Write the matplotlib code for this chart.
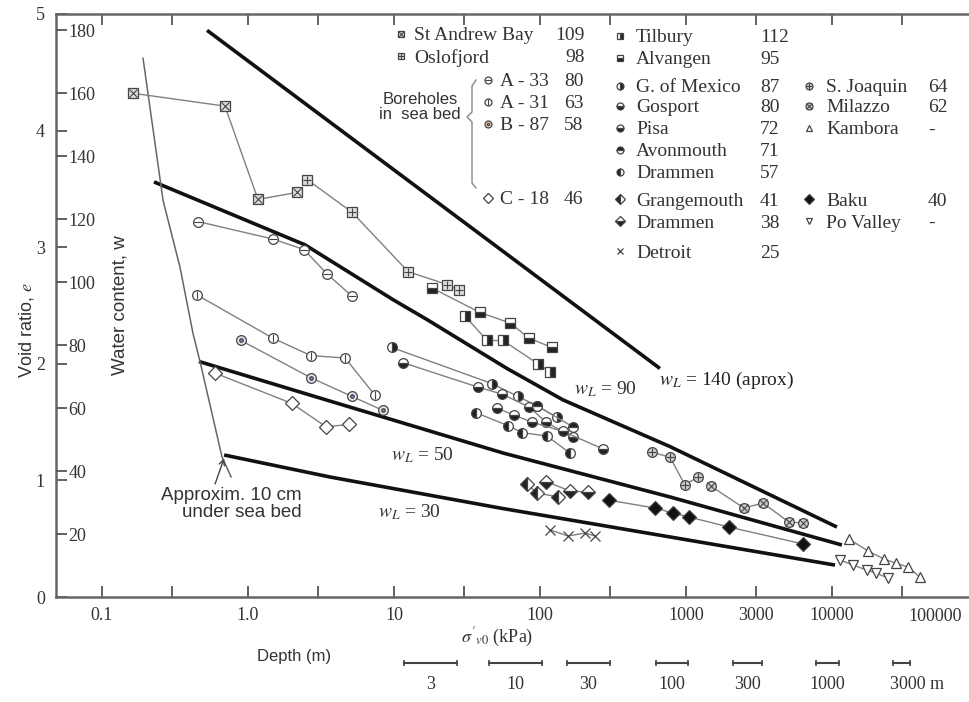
import matplotlib
matplotlib.use('Agg')
import matplotlib.pyplot as plt
from matplotlib.ticker import FixedLocator, NullFormatter
from matplotlib.transforms import blended_transform_factory

plt.rcParams['mathtext.fontset'] = 'stix'
SERIF = 'Liberation Serif'
SANS = 'Liberation Sans'

# ---- axes ----
x_min, x_max = 0.0484, 86800
gs = 2.7  # e = gs * w / 100
x_major = [0.1, 1, 10, 100, 1000, 3000, 10000]
x_major_labels = ['0.1', '1.0', '10', '100', '1000', '3000', '10000']
x_minor = [0.3, 3, 30, 300, 30000]
e_ticks = [0, 1, 2, 3, 4, 5]
w_ticks = [20, 40, 60, 80, 100, 120, 140, 160, 180]

# ---- limit lines (sigma'v0 kPa, void ratio e) ----
wl140_x = [0.524, 663]
wl140_e = [4.86, 1.96]
wl90_x = [0.227, 2.46, 9.85, 16.8, 59.4, 144, 777, 10810]
wl90_e = [3.56, 3.02, 2.55, 2.38, 1.96, 1.69, 1.29, 0.60]
wl50_x = [0.461, 3.65, 55.8, 777, 11700]
wl50_e = [2.02, 1.68, 1.235, 0.858, 0.446]
wl30_x = [0.686, 3.65, 53.2, 777, 10490]
wl30_e = [1.218, 1.029, 0.763, 0.515, 0.274]
seabed_x = [0.191, 0.262, 0.342, 0.420, 0.469, 0.664, 0.766]
seabed_e = [4.62, 3.40, 2.83, 2.26, 2.02, 1.20, 1.03]

# ---- data series ----
st_andrew_x = [0.163, 0.695, 1.17, 2.17]
st_andrew_e = [4.32, 4.21, 3.41, 3.47]
oslofjord_x = [2.54, 5.16, 12.5, 23.1, 27.9]
oslofjord_e = [3.58, 3.30, 2.79, 2.68, 2.63]
a33_x = [0.455, 1.48, 2.42, 3.48, 5.16]
a33_e = [3.22, 3.07, 2.98, 2.77, 2.58]
a31_x = [0.448, 1.48, 2.70, 4.62, 7.41]
a31_e = [2.59, 2.22, 2.07, 2.05, 1.73]
b87_x = [0.895, 2.70, 5.16, 8.41]
b87_e = [2.20, 1.88, 1.72, 1.60]
c18_x = [0.594, 2.0, 3.42, 4.92]
c18_e = [1.92, 1.66, 1.46, 1.48]
tilbury_x = [30.6, 43.4, 55.8, 96.9, 117]
tilbury_e = [2.41, 2.20, 2.20, 2.00, 1.93]
alvangen_x = [18.2, 38.8, 62.4, 84.1, 121]
alvangen_e = [2.65, 2.44, 2.35, 2.22, 2.14]
mexico_x = [9.68, 46.9, 70.6, 95.3, 131]
mexico_e = [2.14, 1.83, 1.72, 1.64, 1.54]
gosport_x = [11.5, 37.6, 54.9, 84.1, 110, 168]
gosport_e = [2.01, 1.80, 1.74, 1.63, 1.50, 1.37]
pisa_x = [50.7, 66.4, 88.1, 144, 270]
pisa_e = [1.62, 1.56, 1.50, 1.42, 1.27]
avonmouth_x = [95.3, 168]
avonmouth_e = [1.64, 1.46]
drammen57_x = [36.5, 60.4, 75.3, 112, 160]
drammen57_e = [1.58, 1.47, 1.41, 1.38, 1.235]
grangemouth_x = [81.5, 95.3, 133]
grangemouth_e = [0.97, 0.89, 0.86]
drammen38_x = [110, 160, 213]
drammen38_e = [0.99, 0.91, 0.90]
detroit_x = [117, 156, 203, 238]
detroit_e = [0.575, 0.523, 0.549, 0.523]
baku_x = [297, 614, 815, 1049, 1972, 6324]
baku_e = [0.83, 0.763, 0.72, 0.686, 0.60, 0.455]
joaquin_x = [585, 777, 984, 1208]
joaquin_e = [1.24, 1.20, 0.96, 1.03]
milazzo_x = [1483, 2494, 3365, 5070, 6324]
milazzo_e = [0.95, 0.763, 0.806, 0.643, 0.635]
kambora_x = [13060, 17650, 22700, 27400, 33200, 40100]
kambora_e = [0.497, 0.395, 0.326, 0.29, 0.257, 0.17]
po_x = [11350, 13930, 17380, 20000, 24200]
po_e = [0.317, 0.274, 0.23, 0.206, 0.163]

# ---- depth scale under the axis (sigma' range for each depth) ----
depth_labels = ['3', '10', '30', '100', '300', '1000', '3000 m']
depth_lo = [11.7, 44.8, 153, 623, 2099, 7770, 26180]
depth_hi = [27.0, 103, 301, 1032, 3318, 11170, 34200]

W, H = 969, 702
fig = plt.figure(figsize=(W / 100, H / 100), dpi=100)
ax = fig.add_axes([56 / W, 1 - 597 / H, 1 - 56 / W, (597 - 14) / H])
ax.set_xscale('log')
ax.set_xlim(x_min, x_max)
ax.set_ylim(0, 5)

EDGE = '#444444'
LINE = '#808080'

styles = {
    'St Andrew Bay': dict(marker='s', mfc='#dddddd', inner='x'),
    'Oslofjord': dict(marker='s', mfc='#dddddd', inner='+'),
    'A - 33': dict(marker='o', mfc='white', inner='_'),
    'A - 31': dict(marker='o', mfc='white', inner='|'),
    'B - 87': dict(marker='o', mfc='#e6e6e6', inner='.'),
    'C - 18': dict(marker='D', mfc='white', inner=None),
    'Tilbury': dict(marker='s', mfc='#222222', fs='right'),
    'Alvangen': dict(marker='s', mfc='#222222', fs='bottom'),
    'G. of Mexico': dict(marker='o', mfc='#222222', fs='right'),
    'Gosport': dict(marker='o', mfc='#222222', fs='bottom'),
    'Pisa': dict(marker='o', mfc='#222222', fs='bottom'),
    'Avonmouth': dict(marker='o', mfc='#222222', fs='top'),
    'Drammen57': dict(marker='o', mfc='#222222', fs='left'),
    'Grangemouth': dict(marker='D', mfc='#222222', fs='left'),
    'Drammen38': dict(marker='D', mfc='#222222', fs='bottom'),
    'Detroit': dict(marker='x', mfc='none'),
    'S. Joaquin': dict(marker='o', mfc='#cccccc', inner='+'),
    'Milazzo': dict(marker='o', mfc='#cccccc', inner='x'),
    'Kambora': dict(marker='^', mfc='white'),
    'Baku': dict(marker='D', mfc='#111111'),
    'Po Valley': dict(marker='v', mfc='white'),
}


def draw(ax_, x, y, st, ms=7, **kw):
    ax_.plot(x, y, color=LINE, lw=1, marker=st['marker'], ms=ms,
             mfc=st['mfc'], mfcalt='white', fillstyle=st.get('fs', 'full'),
             mec=EDGE, mew=0.9, zorder=3, **kw)
    if st.get('inner'):
        ax_.plot(x, y, ls='none', marker=st['inner'], ms=ms * 0.75,
                 mec=EDGE, mew=0.8, zorder=4, **kw)


series = [
    ('St Andrew Bay', st_andrew_x, st_andrew_e), ('Oslofjord', oslofjord_x, oslofjord_e),
    ('A - 33', a33_x, a33_e), ('A - 31', a31_x, a31_e), ('B - 87', b87_x, b87_e),
    ('C - 18', c18_x, c18_e), ('Tilbury', tilbury_x, tilbury_e),
    ('Alvangen', alvangen_x, alvangen_e), ('G. of Mexico', mexico_x, mexico_e),
    ('Gosport', gosport_x, gosport_e), ('Pisa', pisa_x, pisa_e),
    ('Avonmouth', avonmouth_x, avonmouth_e), ('Drammen57', drammen57_x, drammen57_e),
    ('Grangemouth', grangemouth_x, grangemouth_e), ('Drammen38', drammen38_x, drammen38_e),
    ('Detroit', detroit_x, detroit_e), ('S. Joaquin', joaquin_x, joaquin_e),
    ('Milazzo', milazzo_x, milazzo_e), ('Kambora', kambora_x, kambora_e),
    ('Baku', baku_x, baku_e), ('Po Valley', po_x, po_e),
]
for name, x, y in series:
    draw(ax, x, y, styles[name])

# limit lines
for x, y in [(wl140_x, wl140_e), (wl90_x, wl90_e), (wl50_x, wl50_e), (wl30_x, wl30_e)]:
    ax.plot(x, y, color='#111111', lw=2.6, solid_capstyle='butt', zorder=2)
ax.plot(seabed_x, seabed_e, color='#666666', lw=1.1, zorder=2)

ax.text(283, 1.78, r'$w_L$ = 90', fontsize=14, family=SERIF, ha='center', va='center', color='#333')
ax.text(1900, 1.86, r'$w_L$ = 140 (aprox)', fontsize=14, family=SERIF, ha='center', va='center', color='#222')
ax.text(15.6, 1.22, r'$w_L$ = 50', fontsize=14, family=SERIF, ha='center', va='center', color='#333')
ax.text(12.7, 0.73, r'$w_L$ = 30', fontsize=14, family=SERIF, ha='center', va='center', color='#333')
ax.text(2.34, 0.80, 'Approxim. 10 cm\nunder sea bed', fontsize=13.5, family=SANS,
        ha='right', va='center', color='#333', linespacing=1.0)
ax.annotate('', xy=(0.686, 1.19), xytext=(0.595, 0.97),
            arrowprops=dict(arrowstyle='->', color='#444', lw=1, shrinkA=0, shrinkB=0))

# ---- axes styling ----
for s in ['left', 'bottom', 'top']:
    ax.spines[s].set_color('#666666')
    ax.spines[s].set_linewidth(1.8)
ax.spines['right'].set_visible(False)
ax.xaxis.set_major_locator(FixedLocator(x_major))
ax.set_xticklabels(x_major_labels)
ax.xaxis.set_minor_locator(FixedLocator(x_minor))
ax.xaxis.set_minor_formatter(NullFormatter())
ax.tick_params(axis='x', which='both', direction='in', top=True, length=8, width=1.3,
               color='#555', labelsize=13, pad=7)
ax.set_yticks(e_ticks)
ax.tick_params(axis='y', direction='in', length=8, width=1.3, color='#555', labelsize=13, pad=8)
for lab in ax.get_xticklabels() + ax.get_yticklabels():
    lab.set_family(SERIF)
    lab.set_color('#333')
ax.text(5.07e4, -0.019, '100000', transform=blended_transform_factory(ax.transData, ax.transAxes),
        fontsize=13, family=SERIF, ha='center', va='top', color='#333')

ax2 = ax.twinx()
ax2.set_ylim(0, 5 / gs * 100)
ax2.set_yticks(w_ticks)
ax2.spines['right'].set_position(('axes', 0))
ax2.spines['right'].set_visible(False)
for s in ['left', 'top', 'bottom']:
    ax2.spines[s].set_visible(False)
ax2.tick_params(axis='y', direction='out', length=8, width=1.3, color='#555', labelsize=13, pad=1)
for lab in ax2.get_yticklabels():
    lab.set_family(SERIF)
    lab.set_color('#333')

fig.text(26 / W, 1 - 330 / H, 'Void ratio, $e$', rotation=90, fontsize=13, family=SANS,
         ha='center', va='center', color='#333')
fig.text(120 / W, 1 - 305 / H, 'Water content, w', rotation=90, fontsize=13.5, family=SANS,
         ha='center', va='center', color='#333')
ax.set_xlabel(r"$\sigma'_{v0}$ (kPa)", fontsize=13, family=SERIF, color='#333', labelpad=6)
ax.xaxis.set_label_coords((497 - 56) / (W - 56), (597 - 626) / 583)
fig.text(294 / W, 1 - 657 / H, 'Depth (m)', fontsize=12, family=SANS, ha='center', va='center', color='#333')

# depth bars
tb = blended_transform_factory(ax.transData, ax.transAxes)
for lab, lo, hi in zip(depth_labels, depth_lo, depth_hi):
    ax.plot([lo, hi], [-0.113, -0.113], color='#444', lw=1.5, marker='|', ms=4, mew=1.2,
            transform=tb, clip_on=False)
    if lab.endswith('m'):
        ax.text(lo * 0.95, -0.135, lab, transform=tb, fontsize=13, family=SERIF, ha='left', va='top', color='#333')
    else:
        ax.text((lo * hi) ** 0.5, -0.135, lab, transform=tb, fontsize=13, family=SERIF,
                ha='center', va='top', color='#333')

# ---- legend, built as text ----
legend_names = ['St Andrew Bay', 'Oslofjord', 'A - 33', 'A - 31', 'B - 87', 'C - 18',
                'Tilbury', 'Alvangen', 'G. of Mexico', 'Gosport', 'Pisa', 'Avonmouth',
                'Drammen57', 'Grangemouth', 'Drammen38', 'Detroit',
                'S. Joaquin', 'Milazzo', 'Kambora', 'Baku', 'Po Valley']
legend_values = ['109', '98', '80', '63', '58', '46',
                 '112', '95', '87', '80', '72', '71', '57', '41', '38', '25',
                 '64', '62', '-', '40', '-']
legend_col = [0, 0, 1, 1, 1, 1, 2, 2, 2, 2, 2, 2, 2, 2, 2, 2, 3, 3, 3, 3, 3]
legend_row = [36, 58, 82, 104, 126, 200, 38, 60, 88, 108, 130, 152, 174, 201, 223, 253,
              88, 108, 130, 201, 223]
col_marker = [401, 488, 620, 809]
col_name = [414, 500, 636, 826]
col_value = [(585, 'right'), (564, 'left'), (760, 'left'), (928, 'left')]

for name, val, c, r in zip(legend_names, legend_values, legend_col, legend_row):
    xm, ym = col_marker[c] / W, 1 - (r - 2) / H
    draw(ax, [xm], [ym], styles[name], ms=5, transform=fig.transFigure, clip_on=False)
    label = name.replace('57', '').replace('38', '')
    fig.text(col_name[c] / W, 1 - r / H, label, fontsize=14, family=SERIF,
             ha='left', va='center', color='#333')
    vx, vha = col_value[c]
    fig.text(vx / W, 1 - r / H, val, fontsize=14, family=SERIF, ha=vha, va='center', color='#333')

fig.text(420 / W, 1 - 107 / H, 'Boreholes\nin  sea bed', fontsize=12, family=SANS,
         ha='center', va='center', color='#333', linespacing=1.0)
brace_x = [476, 472, 472, 467, 472, 472, 476]
brace_y = [80, 86, 112, 117, 122, 183, 188]
ax.plot([v / W for v in brace_x], [1 - v / H for v in brace_y], color='#888', lw=1,
        transform=fig.transFigure, clip_on=False)

fig.savefig('out.png', dpi=100)
